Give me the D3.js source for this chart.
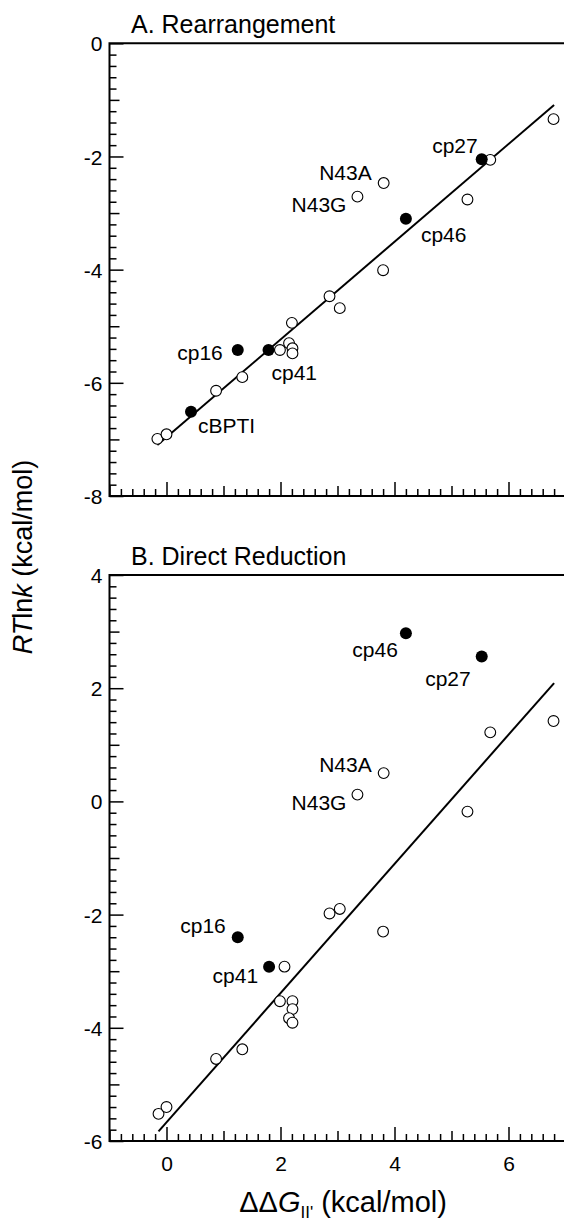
<!DOCTYPE html>
<html><head><meta charset="utf-8">
<script src="https://cdn.jsdelivr.net/npm/d3@7"></script>
<style>
body{margin:0;background:#fff}
svg{display:block}
text{font-family:"Liberation Sans",Arial,Helvetica,sans-serif;fill:#000}
</style>
</head><body>
<svg id="chart" width="564" height="1221"></svg>
<script>
// ---------- data ----------
const xTickLabels = ["0","2","4","6"];
const xTickValues = [0,2,4,6];
const yTickValuesA = [0,-2,-4,-6,-8];
const yTickLabelsA = ["0","-2","-4","-6","-8"];
const yTickValuesB = [4,2,0,-2,-4,-6];
const yTickLabelsB = ["4","2","0","-2","-4","-6"];

// Panel A: Rearrangement
const openAx = [-0.16, 0.00, 0.87, 1.33, 1.99, 2.15, 2.21, 2.21, 2.20, 2.86, 3.04, 3.80, 3.35, 3.81, 5.28, 5.68, 6.79];
const openAy = [-6.99, -6.91, -6.14, -5.90, -5.42, -5.30, -5.39, -5.48, -4.94, -4.47, -4.68, -4.01, -2.71, -2.47, -2.76, -2.06, -1.34];
const filledAnames = ["cBPTI","cp16","cp41","cp46","cp27"];
const filledAx = [0.43, 1.25, 1.79, 4.20, 5.53];
const filledAy = [-6.51, -5.42, -5.42, -3.10, -2.05];
const labelAnames = ["cBPTI","cp16","cp41","cp46","cp27","N43A","N43G"];
const labelAx = [0.43, 1.25, 1.79, 4.20, 5.53, 3.81, 3.35];
const labelAy = [-6.51, -5.42, -5.42, -3.10, -2.05, -2.47, -2.71];
const fitAx = [-0.16, 6.80];
const fitAy = [-7.10, -1.09];

// Panel B: Direct Reduction
const openBx = [-0.14, 0.00, 0.87, 1.33, 2.07, 1.99, 2.21, 2.21, 2.15, 2.21, 2.86, 3.04, 3.35, 3.81, 3.80, 5.28, 5.68, 6.79];
const openBy = [-5.52, -5.40, -4.55, -4.38, -2.92, -3.53, -3.53, -3.67, -3.83, -3.91, -1.98, -1.90, 0.12, 0.50, -2.30, -0.18, 1.22, 1.42];
const filledBnames = ["cp16","cp41","cp46","cp27"];
const filledBx = [1.25, 1.80, 4.20, 5.53];
const filledBy = [-2.40, -2.92, 2.97, 2.56];
const labelBnames = ["cp16","cp41","cp46","cp27","N43A","N43G"];
const labelBx = [1.25, 1.80, 4.20, 5.53, 3.81, 3.35];
const labelBy = [-2.40, -2.92, 2.97, 2.56, 0.50, 0.12];
const fitBx = [-0.14, 6.80];
const fitBy = [-5.83, 2.09];

// ---------- styling / layout ----------
const labelStyleA = {
  cBPTI:{dx:7,dy:21,anchor:"start"}, cp16:{dx:-15,dy:10,anchor:"end"},
  cp41:{dx:3,dy:30,anchor:"start"}, cp46:{dx:15,dy:23,anchor:"start"},
  cp27:{dx:-4,dy:-6,anchor:"end"}, N43A:{dx:-12,dy:-3,anchor:"end"},
  N43G:{dx:-11,dy:15,anchor:"end"}
};
const labelStyleB = {
  cp16:{dx:-12,dy:-4,anchor:"end"}, cp41:{dx:-11,dy:16,anchor:"end"},
  cp46:{dx:-8,dy:24,anchor:"end"}, cp27:{dx:-11,dy:29,anchor:"end"},
  N43A:{dx:-12,dy:-1,anchor:"end"}, N43G:{dx:-11,dy:15,anchor:"end"}
};

const svg = d3.select("#chart");
const left = 109.5, right = 565.5;
const x = d3.scaleLinear().domain([-1,7]).range([left,right]);

const panels = [
  {title:"A. Rearrangement", y:d3.scaleLinear().domain([-8,0]).range([496,43.3]),
   yTV:yTickValuesA, yTL:yTickLabelsA, ox:openAx, oy:openAy, fx:filledAx, fy:filledAy,
   lx:labelAx, ly:labelAy, ln:labelAnames, ls:labelStyleA, fitx:fitAx, fity:fitAy, xlabels:false},
  {title:"B. Direct Reduction", y:d3.scaleLinear().domain([-6,4]).range([1141,575]),
   yTV:yTickValuesB, yTL:yTickLabelsB, ox:openBx, oy:openBy, fx:filledBx, fy:filledBy,
   lx:labelBx, ly:labelBy, ln:labelBnames, ls:labelStyleB, fitx:fitBx, fity:fitBy, xlabels:true}
];

const fs = 21;
panels.forEach(p => {
  const y = p.y;
  const [y0, y1] = y.domain();
  const top = y(y1), bottom = y(y0);
  const g = svg.append("g");

  const yMinor = d3.range(Math.round(y0*5), Math.round(y1*5)+1).map(v=>v/5).filter(v=>Math.abs(v-Math.round(v))>1e-6);
  const yMed = d3.range(y0, y1+1).filter(v=>Math.abs(v%2)===1);
  const xMinor = d3.range(-5, 36).map(v=>v/5).filter(v=>Math.abs(v-Math.round(v))>1e-6);
  const xMed = d3.range(-1, 8).filter(v=>Math.abs(v%2)===1);
  const xMaj = d3.range(-1, 8).filter(v=>v%2===0);

  const styleAxis = sel => { sel.selectAll(".domain").remove(); sel.selectAll(".tick line").attr("stroke","#000").attr("stroke-width",1.5); };

  g.append("g").attr("transform",`translate(${left},0)`)
    .call(d3.axisLeft(y).tickValues(yMinor).tickSize(-7).tickFormat("")).call(styleAxis);
  g.append("g").attr("transform",`translate(${left},0)`)
    .call(d3.axisLeft(y).tickValues(yMed).tickSize(-10).tickFormat("")).call(styleAxis);
  const yl = g.append("g").attr("transform",`translate(${left},0)`)
    .call(d3.axisLeft(y).tickValues(p.yTV).tickSize(-14).tickPadding(7)
      .tickFormat((d,i)=>p.yTL[i])).call(styleAxis);
  yl.selectAll("text").attr("font-size",fs).attr("font-family",null).attr("dy","0.36em");
  yl.selectAll(".tick text").attr("x",-7);

  g.append("g").attr("transform",`translate(0,${bottom})`)
    .call(d3.axisBottom(x).tickValues(xMinor).tickSize(-7).tickFormat("")).call(styleAxis);
  g.append("g").attr("transform",`translate(0,${bottom})`)
    .call(d3.axisBottom(x).tickValues(xMed).tickSize(-10).tickFormat("")).call(styleAxis);
  const xl = g.append("g").attr("transform",`translate(0,${bottom})`)
    .call(d3.axisBottom(x).tickValues(xMaj).tickSize(-14).tickPadding(16)
      .tickFormat(d => { const i = xTickValues.indexOf(d); return (p.xlabels && i>=0) ? xTickLabels[i] : ""; }))
    .call(styleAxis);
  xl.selectAll("text").attr("font-size",fs).attr("font-family",null).attr("y",15).attr("dy","0.71em");

  // frame
  g.append("path").attr("d",`M${left},${top}H${right}V${bottom}H${left}Z`)
    .attr("fill","none").attr("stroke","#000").attr("stroke-width",2);

  // title
  g.append("text").attr("x",131).attr("y",top-10).attr("font-size",25).text(p.title);

  // fit line
  const line = d3.line().x(d=>x(d[0])).y(d=>y(d[1]));
  g.append("path").datum(p.fitx.map((v,i)=>[v,p.fity[i]])).attr("d",line)
    .attr("fill","none").attr("stroke","#000").attr("stroke-width",2);

  // open circles
  g.selectAll(".o").data(p.ox.map((v,i)=>[v,p.oy[i]])).join("circle")
    .attr("cx",d=>x(d[0])).attr("cy",d=>y(d[1])).attr("r",5.4)
    .attr("fill","#fff").attr("stroke","#000").attr("stroke-width",1.1);
  // filled circles
  g.selectAll(".f").data(p.fx.map((v,i)=>[v,p.fy[i]])).join("circle")
    .attr("cx",d=>x(d[0])).attr("cy",d=>y(d[1])).attr("r",6)
    .attr("fill","#000");

  // labels
  g.selectAll(".lab").data(p.ln.map((n,i)=>({n, x:p.lx[i], y:p.ly[i]}))).join("text")
    .attr("x",d=>x(d.x)+p.ls[d.n].dx).attr("y",d=>y(d.y)+p.ls[d.n].dy)
    .attr("text-anchor",d=>p.ls[d.n].anchor).attr("font-size",21).text(d=>d.n);
});

// y-axis title
const yt = svg.append("text").attr("transform","translate(32,557) rotate(-90)")
  .attr("text-anchor","middle").attr("font-size",27);
yt.append("tspan").attr("font-style","italic").text("RT");
yt.append("tspan").text("ln");
yt.append("tspan").attr("font-style","italic").text("k");
yt.append("tspan").text(" (kcal/mol)");

// x-axis title
const xt = svg.append("text").attr("x",343).attr("y",1212).attr("text-anchor","middle").attr("font-size",29);
xt.append("tspan").text("ΔΔ");
xt.append("tspan").attr("font-style","italic").text("G");
xt.append("tspan").attr("font-size",17).attr("dy",6).text("II'");
xt.append("tspan").attr("dy",-6).text(" (kcal/mol)");
</script>
</body></html>
